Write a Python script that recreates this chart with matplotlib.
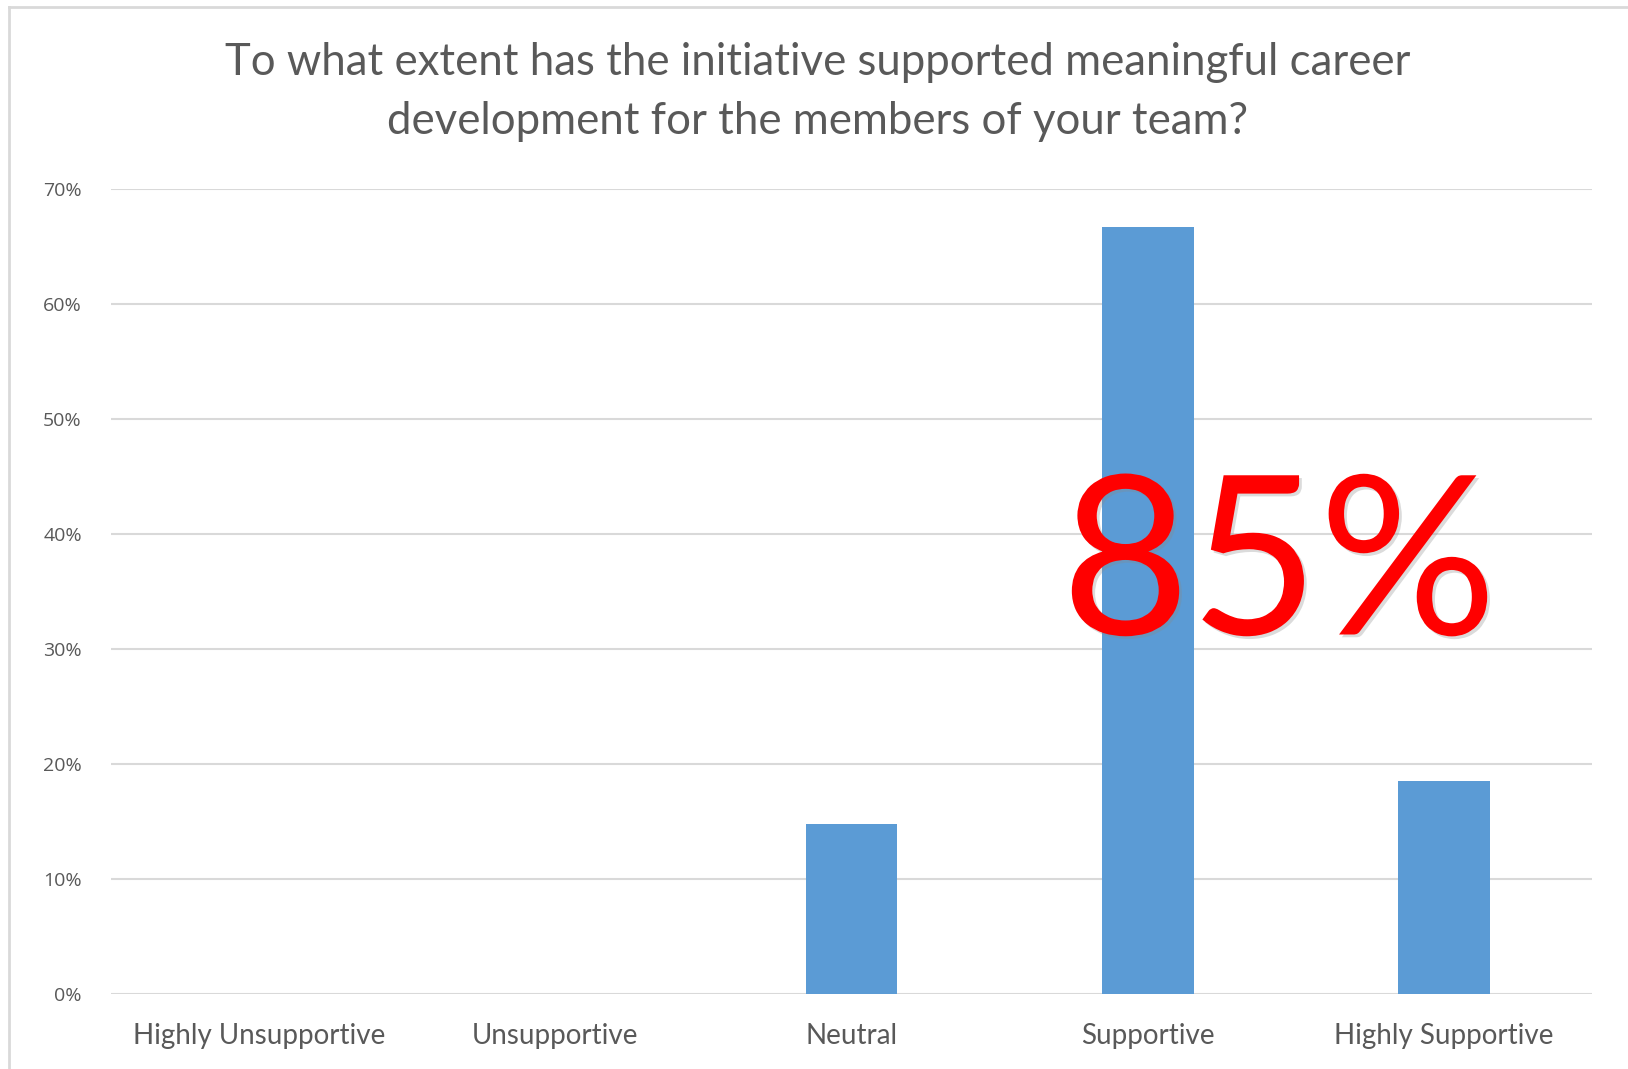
import matplotlib.pyplot as plt
from matplotlib.lines import Line2D
from matplotlib import ticker
import matplotlib.patheffects as pe
import numpy as np

# survey answers and share of respondents
categories = ['Highly Unsupportive', 'Unsupportive', 'Neutral', 'Supportive', 'Highly Supportive']
shares = [0.0, 0.0, 14.8, 66.7, 18.5]
y_ticks = [0, 10, 20, 30, 40, 50, 60, 70]
title = 'To what extent has the initiative supported meaningful career\ndevelopment for the members of your team?'
callout = '85%'

grey = '#595959'
bar_color = '#5B9BD5'
grid_color = '#D9D9D9'

plt.rcParams['font.family'] = ['Lato', 'DejaVu Sans']

fig = plt.figure(figsize=(16.28, 10.69), dpi=100)
ax = fig.add_axes([111 / 1628, 1 - 994 / 1069, (1592 - 111) / 1628, (994 - 189) / 1069])

x = np.arange(len(categories))
ax.bar(x, shares, width=0.31, color=bar_color, zorder=2)

ax.set_xlim(-0.5, len(categories) - 0.5)
ax.set_ylim(0, 70)
ax.set_yticks(y_ticks)
ax.yaxis.set_major_formatter(ticker.FuncFormatter(lambda v, p: '%d%%' % v))
ax.set_xticks(x)
ax.set_xticklabels(categories)

ax.grid(axis='y', color=grid_color, linewidth=1.5, zorder=0)
for s in ax.spines.values():
    s.set_visible(False)
ax.tick_params(axis='both', length=0, colors=grey)
ax.tick_params(axis='x', labelsize=20, pad=21)
ax.tick_params(axis='y', labelsize=14, pad=21)
for lbl in ax.get_yticklabels():
    lbl.set_family(['Open Sans', 'DejaVu Sans'])

fig.text(818 / 1628, 1 - 92 / 1069, title, ha='center', va='center', fontsize=31.5,
         color=grey, linespacing=1.55)

# big red callout over the supportive bars
fig.text(1279 / 1628, 1 - 572 / 1069, callout, ha='center', va='center', fontsize=160,
         color='#FF0000', zorder=5,
         path_effects=[pe.SimpleLineShadow(offset=(2, -2), shadow_color='#999999', alpha=0.35, linewidth=0),
                       pe.withSimplePatchShadow(offset=(2, -2), shadow_rgbFace='#888888', alpha=0.3)])

# light frame along the top and left edge
fig.add_artist(Line2D([9 / 1628, 1], [1 - 7 / 1069, 1 - 7 / 1069], color='#D9D9D9', linewidth=2))
fig.add_artist(Line2D([9 / 1628, 9 / 1628], [0, 1 - 7 / 1069], color='#D9D9D9', linewidth=2))

fig.savefig('out.png', dpi=100, facecolor='white')
